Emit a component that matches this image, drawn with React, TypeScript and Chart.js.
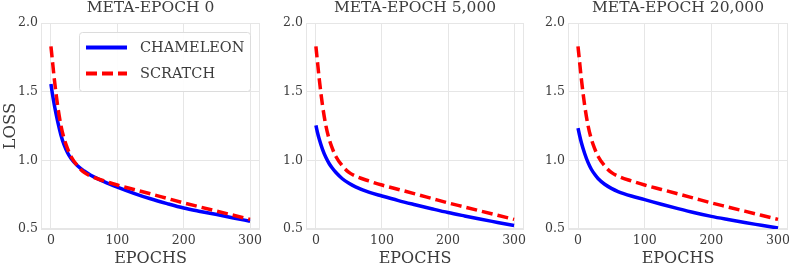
import React, { useEffect, useRef } from "react";
import { Chart, registerables } from "chart.js";
Chart.register(...registerables);

// ---- data ----
const EPOCHS = [0, 2, 5, 10, 15, 20, 25, 30, 40, 50, 60, 80, 100, 125, 150, 175, 200, 225, 250, 275, 300];
const SCRATCH = [1.83, 1.735, 1.595, 1.4, 1.255, 1.155, 1.085, 1.03, 0.96, 0.912, 0.885, 0.85, 0.82, 0.788, 0.756, 0.723, 0.69, 0.66, 0.63, 0.6, 0.57];
const CHAMELEON_0 = [1.555, 1.49, 1.405, 1.285, 1.185, 1.11, 1.055, 1.015, 0.96, 0.922, 0.892, 0.845, 0.805, 0.76, 0.72, 0.685, 0.653, 0.628, 0.605, 0.58, 0.557];
const CHAMELEON_5000 = [1.255, 1.21, 1.155, 1.08, 1.022, 0.977, 0.942, 0.913, 0.866, 0.833, 0.807, 0.768, 0.74, 0.707, 0.677, 0.648, 0.62, 0.595, 0.571, 0.548, 0.525];
const CHAMELEON_20000 = [1.235, 1.19, 1.13, 1.05, 0.985, 0.935, 0.898, 0.868, 0.826, 0.796, 0.773, 0.74, 0.714, 0.68, 0.648, 0.618, 0.592, 0.569, 0.547, 0.527, 0.507];
const PANEL_TITLES = ["META-EPOCH 0", "META-EPOCH 5,000", "META-EPOCH 20,000"];
const SERIES_LABELS = ["CHAMELEON", "SCRATCH"];
const X_TICKS = [0, 100, 200, 300];
const Y_TICKS = [0.5, 1.0, 1.5, 2.0];
const X_LABEL = "EPOCHS";
const Y_LABEL = "LOSS";

const FONT = "'DejaVu Serif', serif";
const TEXT = "#3c3c3c";
const GRID = "#e6e6e6";

const framePlugin = {
  id: "frame",
  beforeDatasetsDraw(chart: any) {
    const { ctx, chartArea: ca } = chart;
    ctx.save();
    ctx.strokeStyle = GRID;
    ctx.lineWidth = 1;
    ctx.strokeRect(Math.round(ca.left) + 0.5, Math.round(ca.top) + 0.5, Math.round(ca.right - ca.left) - 1, Math.round(ca.bottom - ca.top) - 1);
    ctx.restore();
  },
};

const panelTitlePlugin = {
  id: "panelTitle",
  afterDraw(chart: any, _args: any, opts: any) {
    const { ctx, chartArea: ca } = chart;
    ctx.save();
    ctx.font = `15.5px ${FONT}`;
    ctx.fillStyle = TEXT;
    ctx.textAlign = "center";
    ctx.textBaseline = "alphabetic";
    ctx.fillText(opts.text, (ca.left + ca.right) / 2, ca.top - 11.5);
    ctx.restore();
  },
};

const boxLegendPlugin = {
  id: "boxLegend",
  afterDraw(chart: any, _args: any, opts: any) {
    if (!opts.display) return;
    const { ctx, chartArea: ca } = chart;
    const w = 171, h = 59;
    const x = Math.round(ca.right - 10 - w);
    const y = Math.round(ca.top + 9);
    ctx.save();
    ctx.beginPath();
    ctx.roundRect(x + 0.5, y + 0.5, w, h, 3);
    ctx.fillStyle = "rgba(255,255,255,0.9)";
    ctx.fill();
    ctx.strokeStyle = "#dcdcdc";
    ctx.lineWidth = 1;
    ctx.stroke();
    chart.data.datasets.forEach((ds: any, i: number) => {
      const cy = y + 15.5 + i * 26;
      ctx.beginPath();
      ctx.strokeStyle = ds.borderColor;
      ctx.lineWidth = 4;
      ctx.setLineDash(ds.borderDash || []);
      ctx.moveTo(x + 7, cy);
      ctx.lineTo(x + 48, cy);
      ctx.stroke();
      ctx.setLineDash([]);
      ctx.font = `14.5px ${FONT}`;
      ctx.fillStyle = TEXT;
      ctx.textAlign = "left";
      ctx.textBaseline = "middle";
      ctx.fillText(ds.label, x + 61, cy + 1);
    });
    ctx.restore();
  },
};

type PanelSpec = {
  left: number;
  width: number;
  axisW: number;
  rightPad: number;
  title: string;
  values: number[];
  yTitle: boolean;
  legend: boolean;
};

const PANELS: PanelSpec[] = [
  { left: 0, width: 270, axisW: 41, rightPad: 10, title: PANEL_TITLES[0], values: CHAMELEON_0, yTitle: true, legend: true },
  { left: 270, width: 263, axisW: 36, rightPad: 9, title: PANEL_TITLES[1], values: CHAMELEON_5000, yTitle: false, legend: false },
  { left: 533, width: 256, axisW: 35, rightPad: 1, title: PANEL_TITLES[2], values: CHAMELEON_20000, yTitle: false, legend: false },
];

function Panel({ spec }: { spec: PanelSpec }) {
  const ref = useRef<HTMLCanvasElement>(null);
  useEffect(() => {
    if (!ref.current) return;
    const toPts = (vals: number[]) => EPOCHS.map((e, i) => ({ x: e, y: vals[i] }));
    const chart = new Chart(ref.current, {
      type: "line",
      data: {
        datasets: [
          {
            label: SERIES_LABELS[0],
            data: toPts(spec.values),
            borderColor: "#0000ff",
            borderWidth: 3.5,
            pointRadius: 0,
            cubicInterpolationMode: "monotone",
            order: 1,
          },
          {
            label: SERIES_LABELS[1],
            data: toPts(SCRATCH),
            borderColor: "#ff0000",
            borderWidth: 3.5,
            borderDash: [11, 5],
            pointRadius: 0,
            cubicInterpolationMode: "monotone",
            order: 0,
          },
        ],
      } as any,
      options: {
        responsive: false,
        animation: false,
        devicePixelRatio: 1,
        layout: { padding: { top: 23, right: spec.rightPad, bottom: 0, left: 0 } },
        plugins: {
          legend: { display: false },
          tooltip: { enabled: false },
          title: { display: false },
          panelTitle: { text: spec.title },
          boxLegend: { display: spec.legend },
        } as any,
        scales: {
          x: {
            type: "linear",
            min: -15,
            max: 315,
            afterBuildTicks: (s: any) => {
              s.ticks = X_TICKS.map((v) => ({ value: v }));
            },
            afterFit: (s: any) => {
              s.height = 37;
              s.paddingLeft = 0;
              s.paddingRight = 0;
            },
            grid: { color: GRID, drawTicks: false, lineWidth: 1 },
            border: { display: false },
            ticks: {
              padding: 4,
              color: TEXT,
              font: { family: FONT, size: 12.5 },
              maxRotation: 0,
              callback: (v: any) => String(v),
            },
            title: {
              display: true,
              text: X_LABEL,
              color: TEXT,
              font: { family: FONT, size: 16, lineHeight: 1 },
              padding: { top: 0, bottom: -0.5 },
            },
          },
          y: {
            type: "linear",
            min: 0.5,
            max: 2.0,
            afterBuildTicks: (s: any) => {
              s.ticks = Y_TICKS.map((v) => ({ value: v }));
            },
            afterFit: (s: any) => {
              s.width = spec.axisW;
              s.paddingTop = 0;
              s.paddingBottom = 0;
            },
            grid: { color: GRID, drawTicks: false, lineWidth: 1 },
            border: { display: false },
            ticks: {
              padding: 3,
              color: TEXT,
              font: { family: FONT, size: 12.5 },
              callback: (v: any) => Number(v).toFixed(1),
            },
            title: {
              display: spec.yTitle,
              text: Y_LABEL,
              color: TEXT,
              font: { family: FONT, size: 16.5, lineHeight: 1 },
              padding: { top: 2, bottom: 0 },
            },
          },
        },
      } as any,
      plugins: [framePlugin, panelTitlePlugin, boxLegendPlugin],
    });
    return () => chart.destroy();
  }, [spec]);
  return (
    <canvas
      ref={ref}
      width={spec.width}
      height={266}
      style={{ position: "absolute", left: spec.left, top: 0, width: spec.width, height: 266 }}
    />
  );
}

export default function App() {
  return (
    <div style={{ position: "absolute", left: 0, top: 0, width: 789, height: 266, background: "#ffffff", overflow: "hidden" }}>
      {PANELS.map((p) => (
        <Panel key={p.title} spec={p} />
      ))}
    </div>
  );
}
